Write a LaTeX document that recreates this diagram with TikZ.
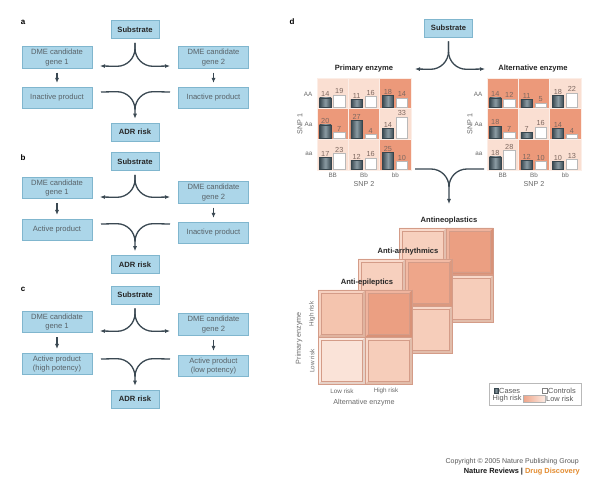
\documentclass[tikz,border=0pt]{standalone}
\usepackage{fontspec}
\setmainfont{Liberation Sans}
\usetikzlibrary{arrows.meta,calc}
\definecolor{boxfill}{RGB}{172,214,233}
\definecolor{boxedge}{RGB}{128,182,206}
\definecolor{boxtext}{RGB}{88,98,104}
\definecolor{arr}{RGB}{58,72,82}
\definecolor{hicell}{RGB}{236,153,122}
\definecolor{locell}{RGB}{250,223,210}
\definecolor{gridln}{RGB}{252,238,231}
\definecolor{barD}{RGB}{55,70,78}
\definecolor{barL}{RGB}{140,156,164}
\definecolor{numc}{RGB}{125,104,96}
\definecolor{lblc}{RGB}{105,105,105}
\definecolor{edgec}{RGB}{212,156,136}
\definecolor{cA}{RGB}{244,196,174}
\definecolor{cB}{RGB}{235,159,130}
\definecolor{cC}{RGB}{250,227,216}
\definecolor{cD}{RGB}{246,205,186}
\definecolor{cE}{RGB}{247,208,190}
\definecolor{cF}{RGB}{238,166,138}
\definecolor{orng}{RGB}{227,139,46}
\newcommand{\fsz}[1]{\fontsize{#1}{#1}\selectfont}
\tikzset{
 box/.style={draw=boxedge, fill=boxfill, line width=0.6pt, minimum width=70pt, minimum height=21.5pt, inner sep=1pt, align=center, text=boxtext, font=\fontsize{7.6}{9.2}\selectfont},
 sbox/.style={box, minimum width=48pt, minimum height=18pt, font=\bfseries\fontsize{7.6}{9.2}\selectfont, text=black!85},
 flow/.style={draw=arr, line width=1.3pt, -{Latex[length=5pt,width=4pt]}},
 arm/.style={draw=arr, line width=1.3pt},
 lett/.style={font=\bfseries\fsz{8}, text=black},
 num/.style={font=\fsz{7.3}, text=numc, inner sep=0.6pt},
 axl/.style={font=\fsz{6.3}, text=lblc, inner sep=0.5pt},
 snp/.style={font=\fsz{7.2}, text=lblc, inner sep=0.5pt},
 ttl/.style={font=\bfseries\fsz{7.6}, text=black!85, inner sep=0.5pt},
 lg/.style={font=\fsz{7.4}, text=black!65, inner sep=0.5pt},
}
\newcommand{\splitarr}[4]{%
 \draw[flow] ($(#1.south)+(0,4)$) -- ($(#1.south)+(0,{#2-18})$) .. controls ($(#1.south)+(0,{#2-8})$) and ($(#1.south)+(-8,#2)$) .. ($(#1.south)+(-18,#2)$) -- (#3);
 \draw[flow] ($(#1.south)+(0,4)$) -- ($(#1.south)+(0,{#2-18})$) .. controls ($(#1.south)+(0,{#2-8})$) and ($(#1.south)+(8,#2)$) .. ($(#1.south)+(18,#2)$) -- (#4);
}
\newcommand{\mergearr}[4]{%
 \draw[arm] (#4) -- ($(#1)+(18,-#2)$) .. controls ($(#1)+(8,-#2)$) and ($(#1)+(0,{-#2+8})$) .. ($(#1)+(0,{-#2+18})$);
 \draw[flow] (#3) -- ($(#1)+(-18,-#2)$) .. controls ($(#1)+(-8,-#2)$) and ($(#1)+(0,{-#2+8})$) .. ($(#1)+(0,{-#2+18})$) -- ($(#1)+(0,-4)$);
}
\newcommand{\gcell}[6]{%
 \fill[#4] (#2,#3) rectangle ++(31.33,30.67);
 \draw[gridln, line width=0.8pt] (#2,#3) rectangle ++(31.33,30.67);
 \shadedraw[left color=barD, right color=barD, middle color=barL, draw=barD, line width=0.4pt] ({#2+2.5},{#3+29.7}) rectangle ++(11.5,{-(0.6*#5+1.5)});
 \draw[fill=white, draw=gray!55, line width=0.5pt] ({#2+16.5},{#3+29.7}) rectangle ++(11.5,{-(0.6*#6+1.5)});
 \node[num, anchor=south] (#1c) at ({#2+8.25},{#3+29.2-(0.6*#5+1.5)}) {#5};
 \node[num, anchor=south] (#1k) at ({#2+22.25},{#3+29.2-(0.6*#6+1.5)}) {#6};
}
\newcommand{\bcell}[3]{%
 \fill[#3] (#1,#2) rectangle ++(47,47);
 \fill[#3!92!black] ({#1+47},#2) -- ++(0,47) -- ++(-47,0) -- ++(3,-3) -- ++(41,0) -- ++(0,-41) -- cycle;
 \fill[#3!78!white] (#1,#2) -- ++(47,0) -- ++(-3,3) -- ++(-41,0) -- ++(0,41) -- ++(-3,3) -- cycle;
 \draw[edgec, line width=0.5pt] (#1,#2) rectangle ++(47,47);
 \draw[edgec, line width=0.3pt] ({#1+3},{#2+3}) rectangle ++(41,41);
}
\begin{document}
\begin{tikzpicture}[x=1pt,y=-1pt]
\fill[white] (0,0) rectangle (600,489);
\useasboundingbox (0,0) rectangle (600,489);
% ---------- panel a
\node[lett] (la) at (23,22) {a};
\node[sbox] (suba) at (135,29.5) {Substrate};
\node[box] (g1a) at (57,57.5) {DME candidate\\gene 1};
\node[box] (g2a) at (213.5,57.5) {DME candidate\\gene 2};
\node[box] (p1a) at (57,98) {Inactive product};
\node[box] (p2a) at (213.5,98) {Inactive product};
\node[sbox] (adra) at (135,132) {ADR risk};
\coordinate (aL) at (100,66); \coordinate (aR) at (170,66);
\coordinate (amL) at (101,92); \coordinate (amR) at (170,92);
\splitarr{suba}{27.5}{aL}{aR}
\mergearr{adra.north}{31}{amL}{amR}
\draw[flow, shorten <=4pt, shorten >=4pt] (g1a) -- (p1a);
\draw[flow, shorten <=4pt, shorten >=4pt] (g2a) -- (p2a);
% ---------- panel b
\node[lett] (lb) at (23,158) {b};
\node[sbox] (subb) at (135,161.5) {Substrate};
\node[box] (g1b) at (57,188) {DME candidate\\gene 1};
\node[box] (g2b) at (213.5,192.5) {DME candidate\\gene 2};
\node[box] (p1b) at (57,230) {Active product};
\node[box] (p2b) at (213.5,233) {Inactive product};
\node[sbox] (adrb) at (135,264.5) {ADR risk};
\coordinate (bL) at (100,197); \coordinate (bR) at (170,197);
\coordinate (bmL) at (101,224); \coordinate (bmR) at (170,224);
\splitarr{subb}{26.5}{bL}{bR}
\mergearr{adrb.north}{31.5}{bmL}{bmR}
\draw[flow, shorten <=4pt, shorten >=4pt] (g1b) -- (p1b);
\draw[flow, shorten <=4pt, shorten >=4pt] (g2b) -- (p2b);
% ---------- panel c
\node[lett] (lc) at (23,289) {c};
\node[sbox] (subc) at (135,295) {Substrate};
\node[box] (g1c) at (57,322) {DME candidate\\gene 1};
\node[box] (g2c) at (213.5,324.5) {DME candidate\\gene 2};
\node[box] (p1c) at (57,364) {Active product\\(high potency)};
\node[box] (p2c) at (213.5,366) {Active product\\(low potency)};
\node[sbox] (adrc) at (135,399) {ADR risk};
\coordinate (cL) at (100,331); \coordinate (cR) at (170,331);
\coordinate (cmL) at (101,359); \coordinate (cmR) at (170,359);
\splitarr{subc}{27}{cL}{cR}
\mergearr{adrc.north}{31}{cmL}{cmR}
\draw[flow, shorten <=4pt, shorten >=4pt] (g1c) -- (p1c);
\draw[flow, shorten <=4pt, shorten >=4pt] (g2c) -- (p2c);
% ---------- panel d
\node[lett] (ld) at (292,22) {d};
\node[sbox] (subd) at (448.5,28) {Substrate};
\coordinate (dL) at (415,69); \coordinate (dR) at (485,69);
\splitarr{subd}{32}{dL}{dR}
\node[ttl] (prim) at (364,69) {Primary enzyme};
\node[ttl] (alte) at (533,69) {Alternative enzyme};
% primary grid
\gcell{p11}{317}{78}{locell}{14}{19}
\gcell{p12}{348.33}{78}{locell}{11}{16}
\gcell{p13}{379.67}{78}{hicell}{18}{14}
\gcell{p21}{317}{108.67}{hicell}{20}{7}
\gcell{p22}{348.33}{108.67}{hicell}{27}{4}
\gcell{p23}{379.67}{108.67}{locell}{14}{33}
\gcell{p31}{317}{139.33}{locell}{17}{23}
\gcell{p32}{348.33}{139.33}{locell}{12}{16}
\gcell{p33}{379.67}{139.33}{hicell}{25}{10}
\node[axl, anchor=east] (pr1) at (313,94) {AA};
\node[axl, anchor=east] (pr2) at (313,124) {Aa};
\node[axl, anchor=east] (pr3) at (313,154) {aa};
\node[snp, rotate=90] (ps1) at (300,124) {SNP 1};
\node[axl] (pc1) at (332.7,175) {BB};
\node[axl] (pc2) at (364,175) {Bb};
\node[axl] (pc3) at (395.3,175) {bb};
\node[snp] (ps2) at (364,184) {SNP 2};
% alternative grid
\gcell{a11}{487}{78}{hicell}{14}{12}
\gcell{a12}{518.33}{78}{hicell}{11}{5}
\gcell{a13}{549.67}{78}{locell}{18}{22}
\gcell{a21}{487}{108.67}{hicell}{18}{7}
\gcell{a22}{518.33}{108.67}{locell}{7}{16}
\gcell{a23}{549.67}{108.67}{hicell}{14}{4}
\gcell{a31}{487}{139.33}{locell}{18}{28}
\gcell{a32}{518.33}{139.33}{hicell}{12}{10}
\gcell{a33}{549.67}{139.33}{locell}{10}{13}
\node[axl, anchor=east] (ar1) at (483,94) {AA};
\node[axl, anchor=east] (ar2) at (483,124) {Aa};
\node[axl, anchor=east] (ar3) at (483,154) {aa};
\node[snp, rotate=90] (as1) at (470,124) {SNP 1};
\node[axl] (ac1) at (502.7,175) {BB};
\node[axl] (ac2) at (534,175) {Bb};
\node[axl] (ac3) at (565.3,175) {bb};
\node[snp] (as2) at (534,184) {SNP 2};
% merge to cube
\coordinate (dmL) at (415,169); \coordinate (dmR) at (484,169);
\coordinate (dend) at (449,208);
\mergearr{dend}{39}{dmL}{dmR}
% cube layers
\bcell{399}{228}{cE}\bcell{446}{228}{cB}\bcell{399}{275}{cD}\bcell{446}{275}{cD}
\node[ttl] (tneo) at (449,221) {Antineoplastics};
\bcell{358}{259}{cE}\bcell{405}{259}{cF}\bcell{358}{306}{cD}\bcell{405}{306}{cD}
\node[ttl] (tarr) at (408,252) {Anti-arrhythmics};
\bcell{318}{290}{cA}\bcell{365}{290}{cB}\bcell{318}{337}{cC}\bcell{365}{337}{cD}
\node[ttl] (tepi) at (367,283) {Anti-epileptics};
\node[axl, rotate=90] (chr) at (312,314) {High risk};
\node[axl, rotate=90] (clr) at (312,361) {Low risk};
\node[snp, rotate=90] (cpe) at (299,338) {Primary enzyme};
\node[axl] (cxl) at (342,391) {Low risk};
\node[axl] (cxh) at (386,391) {High risk};
\node[snp] (cae) at (364,403) {Alternative enzyme};
% legend
\node[draw=gray!55, line width=0.5pt, minimum width=92pt, minimum height=22pt, inner sep=0pt] (leg) at (535,394) {};
\shadedraw[left color=barD, right color=barD, middle color=barL, draw=barD, line width=0.3pt] (494,388) rectangle (498,393);
\node[lg, anchor=west] (lcs) at (498.5,390.5) {Cases};
\draw[draw=gray, fill=white, line width=0.4pt] (542,388) rectangle (547,393);
\node[lg, anchor=west] (lct) at (547.5,390.5) {Controls};
\node[lg, anchor=west] (lhr) at (492,399) {High risk};
\shadedraw[left color=hicell!90, right color=locell!60!white, draw=gray!60, line width=0.4pt] (523,395.5) rectangle (545.5,402.5);
\node[lg, anchor=west] (llr) at (545.5,399) {Low risk};
% copyright
\node[font=\fsz{7}, text=black!65, anchor=east, inner sep=0pt] (copy) at (579,462) {Copyright \textcopyright{} 2005 Nature Publishing Group};
\node[font=\bfseries\fsz{7.4}, text=black!90, anchor=east, inner sep=0pt] (nrd) at (580,471.5) {Nature Reviews | \textcolor{orng}{Drug Discovery}};
\end{tikzpicture}
\end{document}
